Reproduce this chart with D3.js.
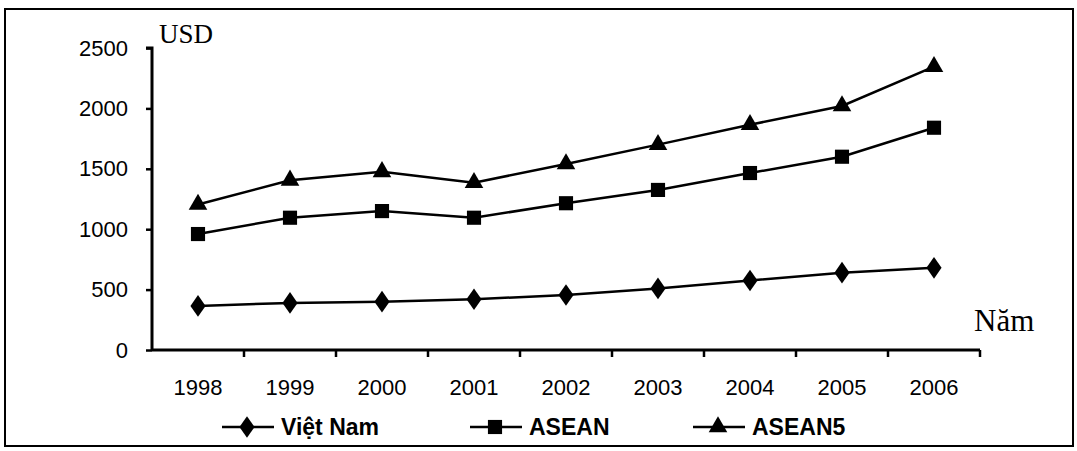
<!DOCTYPE html>
<html>
<head>
<meta charset="utf-8">
<script src="https://cdn.jsdelivr.net/npm/d3@7"></script>
<style>
  body { margin: 0; background: #fff; }
  text { fill: #000; }
</style>
</head>
<body>
<div id="canvas"></div>
<script>
// data
var years = ['1998', '1999', '2000', '2001', '2002', '2003', '2004', '2005', '2006'];
var vietnam = [365, 390, 400, 420, 455, 510, 575, 640, 680];
var asean   = [960, 1095, 1150, 1095, 1215, 1325, 1465, 1600, 1840];
var asean5  = [1205, 1405, 1475, 1385, 1540, 1700, 1865, 2020, 2345];
var yTicks  = [0, 500, 1000, 1500, 2000, 2500];
var seriesNames = ['Việt Nam', 'ASEAN', 'ASEAN5'];

const w = 1077, h = 451;
const plotLeft = 152, plotRight = 980, plotTop = 48, plotBottom = 350;

const svg = d3.select('#canvas').append('svg')
    .attr('width', w).attr('height', h);

// outer frame
svg.append('rect')
    .attr('x', 5).attr('y', 9).attr('width', 1068).attr('height', 437)
    .attr('fill', 'none').attr('stroke', '#000').attr('stroke-width', 2);

const x = d3.scaleBand().domain(years).range([plotLeft, plotRight]).padding(0);
const y = d3.scaleLinear().domain([0, 2500]).range([plotBottom, plotTop]);
const cx = d => x(d) + x.bandwidth() / 2;

// y axis
const yAxis = svg.append('g')
    .attr('transform', `translate(${plotLeft},0)`)
    .call(d3.axisLeft(y).tickValues(yTicks).tickSize(6).tickPadding(18).tickFormat(d3.format('d')));
yAxis.select('.domain').attr('stroke-width', 3).attr('d', `M-6,${plotTop}H0V${plotBottom}`);
yAxis.selectAll('.tick line').attr('stroke-width', 2.5);
yAxis.selectAll('.tick text')
    .attr('font-family', 'Liberation Sans, Arial, sans-serif')
    .attr('font-size', 22);

// x axis: ticks on band edges, labels in the middle
const xg = svg.append('g').attr('transform', `translate(0,${plotBottom})`);
xg.append('line').attr('x1', plotLeft).attr('x2', plotRight).attr('y1', 0).attr('y2', 0)
    .attr('stroke', '#000').attr('stroke-width', 3);
xg.selectAll('line.tk')
    .data(years.slice(1).map(d => x(d)).concat([plotRight]))
    .enter().append('line').attr('class', 'tk')
    .attr('x1', d => d).attr('x2', d => d).attr('y1', 0).attr('y2', 7)
    .attr('stroke', '#000').attr('stroke-width', 2.5);
xg.selectAll('text')
    .data(years).enter().append('text')
    .attr('x', d => cx(d)).attr('y', 45)
    .attr('text-anchor', 'middle')
    .attr('font-family', 'Liberation Sans, Arial, sans-serif')
    .attr('font-size', 22)
    .text(d => d);

// axis titles
svg.append('text').attr('x', 159).attr('y', 43)
    .attr('font-family', 'Liberation Serif, Times New Roman, serif')
    .attr('font-size', 27).text('USD');
svg.append('text').attr('x', 974).attr('y', 331)
    .attr('font-family', 'Liberation Serif, Times New Roman, serif')
    .attr('font-size', 31).text('Năm');

// markers
var markerSizes = [150, 200, 150];
function marker(g, i, px, py) {
    var s = d3.symbol().type(i === 0 ? d3.symbolDiamond : i === 1 ? d3.symbolSquare : d3.symbolTriangle)
        .size(markerSizes[i]);
    g.append('path').attr('d', s())
        .attr('transform', `translate(${px},${py})` + (i === 0 ? ' scale(1.15,0.95)' : ''))
        .attr('fill', '#000');
}

var allSeries = [vietnam, asean, asean5];
const line = d3.line().x((d, i) => cx(years[i])).y(d => y(d));

allSeries.forEach(function(vals, si) {
    svg.append('path').datum(vals)
        .attr('d', line)
        .attr('fill', 'none').attr('stroke', '#000').attr('stroke-width', 2.5);
    var g = svg.append('g');
    vals.forEach(function(v, i) { marker(g, si, cx(years[i]), y(v)); });
});

// legend
var legendX = [222, 470, 693];
var legendY = 427;
seriesNames.forEach(function(name, i) {
    var lx = legendX[i];
    svg.append('line').attr('x1', lx).attr('x2', lx + 52)
        .attr('y1', legendY).attr('y2', legendY)
        .attr('stroke', '#000').attr('stroke-width', 2.5);
    marker(svg.append('g'), i, lx + 25, legendY);
    svg.append('text').attr('x', lx + 59).attr('y', legendY + 8)
        .attr('font-family', 'Liberation Sans, Arial, sans-serif')
        .attr('font-weight', 'bold').attr('font-size', 23)
        .text(name);
});
</script>
</body>
</html>
